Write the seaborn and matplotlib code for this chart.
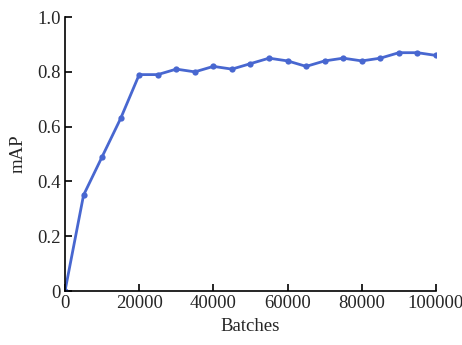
import numpy as np
import pandas as pd
import matplotlib
matplotlib.use("Agg")
import matplotlib.pyplot as plt
import seaborn as sns

# data
batches = [0, 5000, 10000, 15000, 20000, 25000, 30000, 35000, 40000, 45000, 50000,
           55000, 60000, 65000, 70000, 75000, 80000, 85000, 90000, 95000, 100000]
map_values = [0.0, 0.35, 0.49, 0.63, 0.79, 0.79, 0.81, 0.80, 0.82, 0.81, 0.83,
              0.85, 0.84, 0.82, 0.84, 0.85, 0.84, 0.85, 0.87, 0.87, 0.86]
x_ticks = [0, 20000, 40000, 60000, 80000, 100000]
y_ticks = [0, 0.2, 0.4, 0.6, 0.8, 1.0]
y_tick_labels = ["0", "0.2", "0.4", "0.6", "0.8", "1.0"]

df = pd.DataFrame({"Batches": batches, "mAP": map_values})

sns.set_theme(style="ticks")
plt.rcParams["font.family"] = ["Liberation Serif", "DejaVu Serif"]
plt.rcParams["xtick.direction"] = "in"
plt.rcParams["ytick.direction"] = "in"

fig = plt.figure(figsize=(4.62, 3.45), dpi=100)
ax = fig.add_axes([0.1407, 0.1565, 0.803, 0.794])

sns.lineplot(data=df, x="Batches", y="mAP", ax=ax, color="#4867d0",
             linewidth=2, marker="o", markersize=4.5, markeredgewidth=0)

ax.set_xlim(0, 100000)
ax.set_ylim(0, 1.0)
ax.set_xticks(x_ticks)
ax.set_xticklabels([str(t) for t in x_ticks])
ax.set_yticks(y_ticks)
ax.set_yticklabels(y_tick_labels)
ax.tick_params(labelsize=13.5, length=5, width=1.2, color="black", pad=3)
ax.set_xlabel("Batches", fontsize=13.5, labelpad=4)
ax.set_ylabel("mAP", fontsize=13.5, labelpad=8)
sns.despine(ax=ax)
for s in ["left", "bottom"]:
    ax.spines[s].set_color("black")
    ax.spines[s].set_linewidth(1.2)

fig.savefig("out.png", dpi=100)
